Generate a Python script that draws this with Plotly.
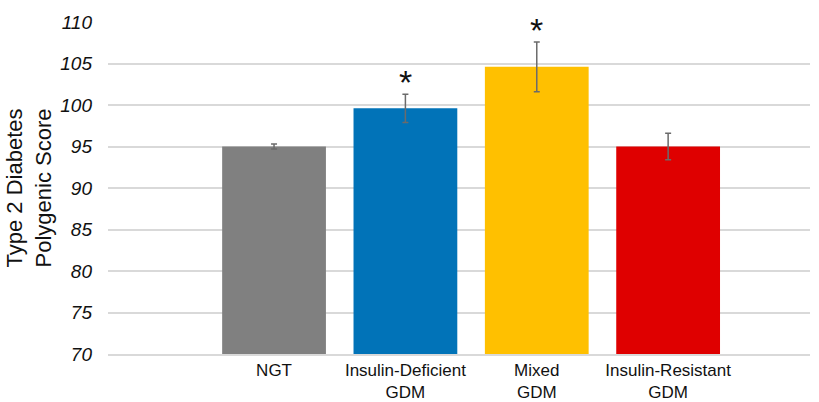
import plotly.graph_objects as go

categories = ["NGT", "Insulin-Deficient<br>GDM", "Mixed<br>GDM", "Insulin-Resistant<br>GDM"]
values = [95.0, 99.6, 104.6, 95.0]
errors = [0.3, 1.7, 3.0, 1.6]
colors = ["#808080", "#0173B8", "#FFC000", "#DF0000"]
significant = [False, True, True, False]
y_ticks = [70, 75, 80, 85, 90, 95, 100, 105, 110]

fig = go.Figure()
fig.add_trace(go.Bar(
    x=list(range(len(categories))), y=values,
    marker=dict(color=colors, line=dict(width=0)),
    error_y=dict(type="data", array=errors, visible=True, color="#6b6b6b", thickness=1.5, width=3),
    width=0.79,
))

for i, (v, e, s) in enumerate(zip(values, errors, significant)):
    if s:
        fig.add_annotation(x=i, y=v + e, text="*", showarrow=False, yanchor="bottom",
                           yshift=-9, font=dict(size=34, color="#111", family="Liberation Sans, Arial"))

fig.update_layout(
    width=819, height=402,
    margin=dict(l=108, r=9, t=22, b=48),
    plot_bgcolor="white", paper_bgcolor="white",
    showlegend=False,
    font=dict(family="Liberation Sans, Arial, sans-serif", color="#111"),
    xaxis=dict(
        tickmode="array", tickvals=list(range(len(categories))), ticktext=categories,
        range=[-1.264, 4.08], showgrid=False, zeroline=False, automargin=False,
        showline=True, linecolor="#d9d9d9", linewidth=1.5, ticks="",
        tickfont=dict(size=17, color="#111"), ticklabelstandoff=0,
    ),
    yaxis=dict(
        range=[70, 110], tickmode="array", tickvals=y_ticks,
        ticktext=["<i>%d</i>" % t for t in y_ticks],
        showgrid=True, gridcolor="#d9d9d9", gridwidth=1.5, automargin=False,
        zeroline=False, showline=False, ticks="", ticklen=0, ticklabelstandoff=15,
        tickfont=dict(size=19, color="#111"),
        title=dict(text="Type 2 Diabetes<br>Polygenic Score", font=dict(size=22, color="#111"), standoff=2),
    ),
)

fig.write_html("out.html", config={"displayModeBar": False},
               post_script="document.body.style.margin='0';document.body.style.overflow='hidden';")
